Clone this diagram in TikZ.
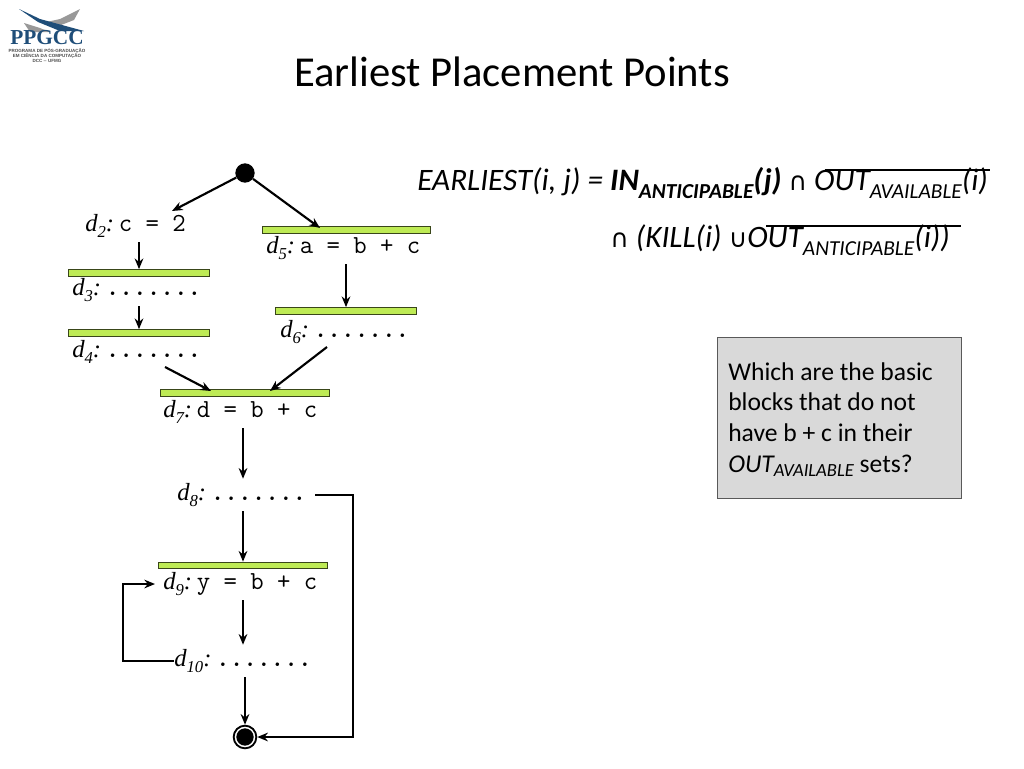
\documentclass[tikz,border=0pt]{standalone}
\usepackage{fontspec}
\usetikzlibrary{arrows.meta}
\setmainfont{Carlito}
\newfontfamily\stmtfont{Liberation Serif}
\newfontfamily\capfont{DejaVu Sans}
\newfontfamily\logofont{Liberation Serif}
\newfontfamily\logosmall{Liberation Sans}
\definecolor{barfill}{HTML}{BEEB55}
\definecolor{logoblue}{HTML}{1F4E79}
\definecolor{boxfill}{HTML}{D9D9D9}
\newcommand{\stmtlab}[2]{{\stmtfont\itshape\fontsize{18.5}{18.5}\selectfont d\raisebox{-.55ex}{\fontsize{12.5}{12.5}\selectfont #1}:}\hspace{3.5pt}\texttt{\fontsize{19.5}{19.5}\selectfont #2}}
\newcommand{\stmtdots}{\texttt{\bfseries .......}}
\newcommand{\eqsub}[1]{\raisebox{-.5ex}{\fontsize{16}{16}\selectfont #1}}
\newcommand{\setop}[1]{{\capfont\upshape\fontsize{19}{19}\selectfont #1}}
\begin{document}
\begin{tikzpicture}[
    x=0.75pt, y=-0.75pt,
    >={Stealth[length=8pt,width=6.5pt,inset=2.6pt]},
    bar/.style={draw=black!70!barfill, fill=barfill, line width=0.8pt, minimum height=5pt, inner sep=0pt},
    stmt/.style={anchor=west, inner sep=0pt, minimum height=24pt},
    flow/.style={->, line width=1.6pt},
    eqn/.style={anchor=west, inner sep=0pt, font=\itshape\fontsize{23.4}{28}\selectfont}
  ]
    \useasboundingbox (0,0) rectangle (1024,768);

    \fill[black!40] (24,23) -- (40,28) -- (50,32) -- (30,32) -- cycle;
    \fill[black!40] (80,9) -- (60,19) -- (42,23) -- (56,27) -- (74,20) -- cycle;
    \fill[logoblue] (19,9) -- (40,19) -- (62,25) -- (84,31) -- (60,31) -- (38,22) -- cycle;
    \node[inner sep=0pt, text=logoblue, font=\logofont\bfseries\fontsize{16}{16}\selectfont] (logoname) at (47,37.5) {PPGCC};
    \node[inner sep=0pt, align=center, text=black!70, font=\logosmall\bfseries\fontsize{3.4}{4}\selectfont] (logotext) at (47,55.5)
      {PROGRAMA DE PÓS-GRADUAÇÃO\\EM CIÊNCIA DA COMPUTAÇÃO\\DCC -- UFMG};

    \node[font=\fontsize{32}{38}\selectfont] (title) at (512,72) {Earliest Placement Points};

    \node[eqn] (eqone) at (417,183) {EARLIEST(i, j) = \textbf{IN\eqsub{ANTICIPABLE}(j)} \setop{∩} OUT\eqsub{AVAILABLE}(i)};
    \node[eqn] (eqtwo) at (610,240) {\setop{∩} (KILL(i) \setop{∪}OUT\eqsub{ANTICIPABLE}(i))};
    \draw[line width=1.4pt] (825,170) -- (990,170);
    \draw[line width=1.4pt] (766,226) -- (961,226);

    \node[draw=black!65, fill=boxfill, line width=0.8pt, anchor=north west, minimum width=183pt, minimum height=120.5pt,
      inner sep=0pt] (question) at (717,337) {};
    \node[anchor=north west, inner sep=0pt, align=left, font=\fontsize{19.2}{23.1}\selectfont] (questiontext) at (728,362)
      {Which are the basic\\blocks that do not\\have b + c in their\\\textit{OUT\raisebox{-.35ex}{\fontsize{13.9}{13.9}\selectfont AVAILABLE}} sets?};

    \node[circle, fill=black, minimum size=14.5pt, inner sep=0pt] (start) at (245,173) {};
    \node[stmt] (d2) at (85,226) {\stmtlab{2}{c = 2}};
    \node[stmt] (d3) at (72,290) {\stmtlab{3}{\stmtdots}};
    \node[stmt] (d4) at (72,352) {\stmtlab{4}{\stmtdots}};
    \node[stmt] (d5) at (266,248) {\stmtlab{5}{a = b + c}};
    \node[stmt] (d6) at (280,332) {\stmtlab{6}{\stmtdots}};
    \node[stmt] (d7) at (163,412) {\stmtlab{7}{d = b + c}};
    \node[stmt] (d8) at (177,495) {\stmtlab{8}{\stmtdots}};
    \node[stmt] (d9) at (163,584) {\stmtlab{9}{y = b + c}};
    \node[stmt] (d10) at (174,661) {\stmtlab{10}{\stmtdots}};

    \node[bar, minimum width=106pt] (bar3) at (139,273) {};
    \node[bar, minimum width=106pt] (bar4) at (139,333) {};
    \node[bar, minimum width=126pt] (bar5) at (346.5,230) {};
    \node[bar, minimum width=106pt] (bar6) at (346,311) {};
    \node[bar, minimum width=127pt] (bar7) at (245,393) {};
    \node[bar, minimum width=127pt] (bar9) at (243,565.5) {};

    \node[circle, draw=black, line width=1.4pt, fill=white, minimum size=17pt, inner sep=0pt] (end) at (245,737) {};
    \node[circle, fill=black, minimum size=13pt, inner sep=0pt] (endcore) at (245,737) {};

    \coordinate (d2in) at (172,211);
    \coordinate (bar5in) at (320,228);
    \coordinate (d4out) at (165,367);
    \coordinate (bar7left) at (211,391);
    \coordinate (d6out) at (327,347);
    \coordinate (bar7right) at (270,391);
    \coordinate (d8out) at (315,495);

    \draw[flow] (start) -- (d2in);
    \draw[flow] (start) -- (bar5in);
    \draw[flow] (d2.south -| bar3.north) -- (bar3.north);
    \draw[flow] (d3.south -| bar4.north) -- (bar4.north);
    \draw[flow] (d5.south -| bar6.north) -- (bar6.north);
    \draw[flow] (d4out) -- (bar7left);
    \draw[flow] (d6out) -- (bar7right);
    \draw[flow] (d7.south -| bar9.north) -- (d8.north -| bar9.north);
    \draw[flow] (d8.south -| bar9.north) -- (bar9.north);
    \draw[flow] (d9.south -| bar9.south) -- (d10.north -| bar9.south);
    \draw[flow] (d10.south -| end.north) -- (end.north);
    \draw[flow] (d8out) -- (353,495) |- (end.east);
    \draw[flow, shorten >=6pt] (d10.west) -- (123,661) |- (d9.west);
  \end{tikzpicture}
\end{document}
